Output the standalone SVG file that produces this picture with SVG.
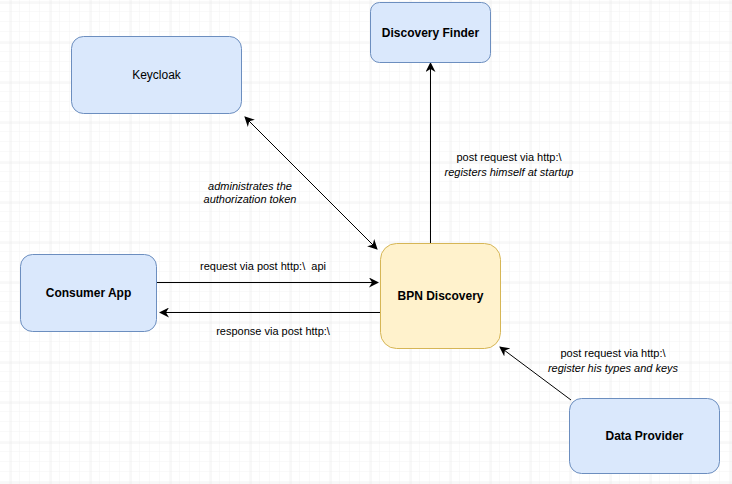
<svg xmlns="http://www.w3.org/2000/svg" width="732" height="484" viewBox="0 0 732 484">
<defs>
<pattern id="minor" width="10" height="10" patternUnits="userSpaceOnUse" x="0" y="2">
<path d="M10 0V10M0 10H10" fill="none" stroke="#f3f3f3" stroke-width="1"/>
</pattern>
<pattern id="major" width="40" height="40" patternUnits="userSpaceOnUse" x="10.5" y="2.5">
<path d="M0 0V40M0 0H40" fill="none" stroke="#e4e4e4" stroke-width="1"/>
</pattern>
<marker id="arr" viewBox="0 0 10 10" refX="9" refY="5" markerWidth="10" markerHeight="10" markerUnits="userSpaceOnUse" orient="auto-start-reverse">
<path d="M0 0L10 5L0 10L3 5Z" fill="#000"/>
</marker>
</defs>
<style>
.blue{fill:#dae8fc;stroke:#6c8ebf;stroke-width:1}
.yel{fill:#fff2cc;stroke:#d6b656;stroke-width:1}
.nt{font-family:"Liberation Sans",Arial,sans-serif;font-size:12px;fill:#000;text-anchor:middle}
.b{font-weight:bold}
.lb{font-family:"Liberation Sans",Arial,sans-serif;font-size:11px;fill:#000;text-anchor:middle}
.it{font-style:italic}
.c{fill:none;stroke:#000;stroke-width:1}
</style>
<rect width="732" height="484" fill="#fff"/>
<rect width="732" height="484" fill="url(#minor)"/>
<rect width="732" height="484" fill="url(#major)"/>
<g id="connectors">
<line class="c" x1="245" y1="117" x2="377" y2="249" marker-start="url(#arr)" marker-end="url(#arr)"/>
<line class="c" x1="430.5" y1="243" x2="430.5" y2="63" marker-end="url(#arr)"/>
<line class="c" x1="157" y1="282.5" x2="378" y2="282.5" marker-end="url(#arr)"/>
<line class="c" x1="380" y1="312.5" x2="160" y2="312.5" marker-end="url(#arr)"/>
<line class="c" x1="571" y1="400" x2="500" y2="347" marker-end="url(#arr)"/>
<text class="lb it" x="250" y="190">administrates the</text>
<text class="lb it" x="250" y="203">authorization token</text>
<text class="lb" x="509" y="161">post request via http:\</text>
<text class="lb it" x="509" y="176">registers himself at startup</text>
<text class="lb" x="263" y="270">request via post http:\&#160; api</text>
<text class="lb" x="273" y="335">response via post http:\</text>
<text class="lb" x="613" y="357">post request via http:\</text>
<text class="lb it" x="613" y="372">register his types and keys</text>
</g>
<g id="keycloak">
<rect class="blue" x="71.5" y="36.5" width="170" height="77" rx="12"/>
<text class="nt" x="156.5" y="79">Keycloak</text>
</g>
<g id="discovery-finder">
<rect class="blue" x="370.5" y="2.5" width="120" height="60" rx="9"/>
<text class="nt b" x="430.5" y="37">Discovery Finder</text>
</g>
<g id="consumer-app">
<rect class="blue" x="20.5" y="254.5" width="136" height="77" rx="12"/>
<text class="nt b" x="88.5" y="297">Consumer App</text>
</g>
<g id="bpn-discovery">
<rect class="yel" x="380.5" y="243.5" width="120" height="105" rx="16"/>
<text class="nt b" x="440.5" y="300">BPN Discovery</text>
</g>
<g id="data-provider">
<rect class="blue" x="569.5" y="398.5" width="150" height="75" rx="12"/>
<text class="nt b" x="644.5" y="440">Data Provider</text>
</g>
</svg>
